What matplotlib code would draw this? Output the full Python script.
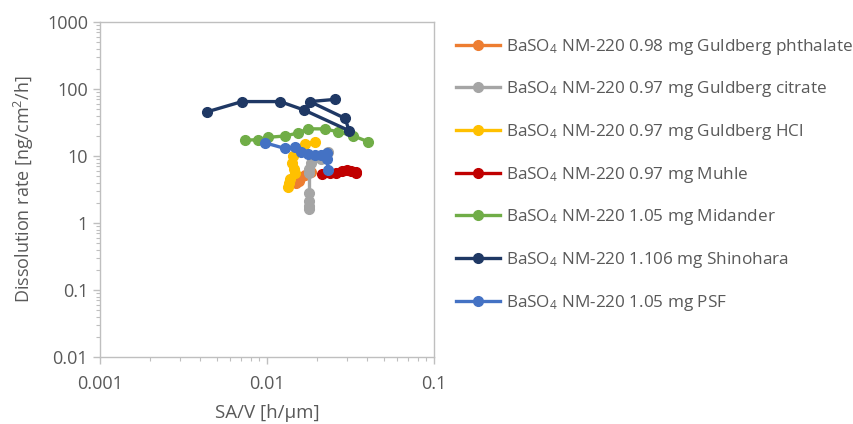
import matplotlib
matplotlib.use('Agg')
import matplotlib.pyplot as plt
from matplotlib.ticker import FixedLocator, FixedFormatter, LogLocator, NullFormatter

plt.rcParams['font.family'] = ['Open Sans', 'DejaVu Sans']
plt.rcParams['mathtext.default'] = 'regular'

labels = [
    'BaSO$_4$ NM-220 0.98 mg Guldberg phthalate',
    'BaSO$_4$ NM-220 0.97 mg Guldberg citrate',
    'BaSO$_4$ NM-220 0.97 mg Guldberg HCl',
    'BaSO$_4$ NM-220 0.97 mg Muhle',
    'BaSO$_4$ NM-220 1.05 mg Midander',
    'BaSO$_4$ NM-220 1.106 mg Shinohara',
    'BaSO$_4$ NM-220 1.05 mg PSF',
]
colors = ['#ED7D31', '#A5A5A5', '#FFC000', '#C00000', '#70AD47', '#1F3864', '#4472C4']

# SA/V [h/um] and dissolution rate [ng/cm2/h]
phthalate_x = [0.0185, 0.017, 0.016, 0.0155, 0.015]
phthalate_y = [5.8, 5.3, 4.8, 4.3, 4.0]

citrate_x = [0.0232, 0.021, 0.0185, 0.018, 0.018, 0.018, 0.018, 0.018, 0.018]
citrate_y = [11.6, 9.0, 7.8, 6.5, 5.6, 2.8, 2.1, 1.8, 1.6]

hcl_x = [0.0195, 0.017, 0.0152, 0.0143, 0.0141, 0.0145, 0.0147, 0.0138, 0.0136, 0.0134]
hcl_y = [16.3, 15.0, 12.0, 10.0, 8.0, 6.5, 5.5, 4.5, 4.0, 3.5]

muhle_x = [0.0213, 0.024, 0.026, 0.028, 0.030, 0.032, 0.034, 0.034]
muhle_y = [5.4, 5.6, 5.5, 6.0, 6.2, 6.0, 5.8, 5.5]

midander_x = [0.0074, 0.0088, 0.0101, 0.0128, 0.0153, 0.0176, 0.0222, 0.0267, 0.033, 0.0402]
midander_y = [17.3, 17.5, 19.0, 19.9, 22.0, 25.5, 25.4, 23.0, 20.0, 16.4]

shinohara_x = [0.0044, 0.0071, 0.012, 0.0167, 0.0311, 0.0294, 0.0181, 0.0255]
shinohara_y = [45.8, 65, 65, 48.6, 23.9, 36.5, 65, 70]

psf_x = [0.0097, 0.0128, 0.0147, 0.016, 0.0176, 0.0195, 0.021, 0.0228, 0.023, 0.0232]
psf_y = [15.8, 13.0, 13.7, 11.5, 10.7, 10.3, 10.5, 11.2, 9.0, 6.2]

xs = [phthalate_x, citrate_x, hcl_x, muhle_x, midander_x, shinohara_x, psf_x]
ys = [phthalate_y, citrate_y, hcl_y, muhle_y, midander_y, shinohara_y, psf_y]

fig = plt.figure(figsize=(8.54, 4.24), dpi=100)
ax = fig.add_axes([0.117, 0.158, 0.391, 0.79])

handles = []
for x, y, c, lab in zip(xs, ys, colors, labels):
    h, = ax.plot(x, y, '-o', color=c, lw=2.4, ms=7, mec=c, label=lab)
    handles.append(h)

ax.set_xscale('log')
ax.set_yscale('log')
ax.set_xlim(0.001, 0.1)
ax.set_ylim(0.01, 1000)

txt = '#595959'
ax.xaxis.set_major_locator(FixedLocator([0.001, 0.01, 0.1]))
ax.xaxis.set_major_formatter(FixedFormatter(['0.001', '0.01', '0.1']))
ax.yaxis.set_major_locator(FixedLocator([0.01, 0.1, 1, 10, 100, 1000]))
ax.yaxis.set_major_formatter(FixedFormatter(['0.01', '0.1', '1', '10', '100', '1000']))
ax.xaxis.set_minor_locator(LogLocator(base=10, subs=range(2, 10)))
ax.yaxis.set_minor_locator(LogLocator(base=10, subs=range(2, 10)))
ax.xaxis.set_minor_formatter(NullFormatter())
ax.yaxis.set_minor_formatter(NullFormatter())
ax.tick_params(which='major', length=5, color='#BFBFBF', labelsize=13, labelcolor=txt, width=1)
ax.tick_params(axis='x', which='major', pad=8)
ax.tick_params(which='minor', length=3, color='#BFBFBF', width=0.8)
for s in ax.spines.values():
    s.set_color('#BFBFBF')
    s.set_linewidth(1)

ax.set_xlabel('SA/V [h/μm]', fontsize=13.5, color=txt, labelpad=8)
ax.set_ylabel('Dissolution rate [ng/cm$^2$/h]', fontsize=13, color=txt, labelpad=8)

leg = fig.legend(handles=handles, loc='upper left', bbox_to_anchor=(0.516, 0.95),
                 frameon=False, fontsize=12.3, labelspacing=1.33, handlelength=2.6,
                 handletextpad=0.35)
for t in leg.get_texts():
    t.set_color(txt)

fig.savefig('out.png', dpi=100)
